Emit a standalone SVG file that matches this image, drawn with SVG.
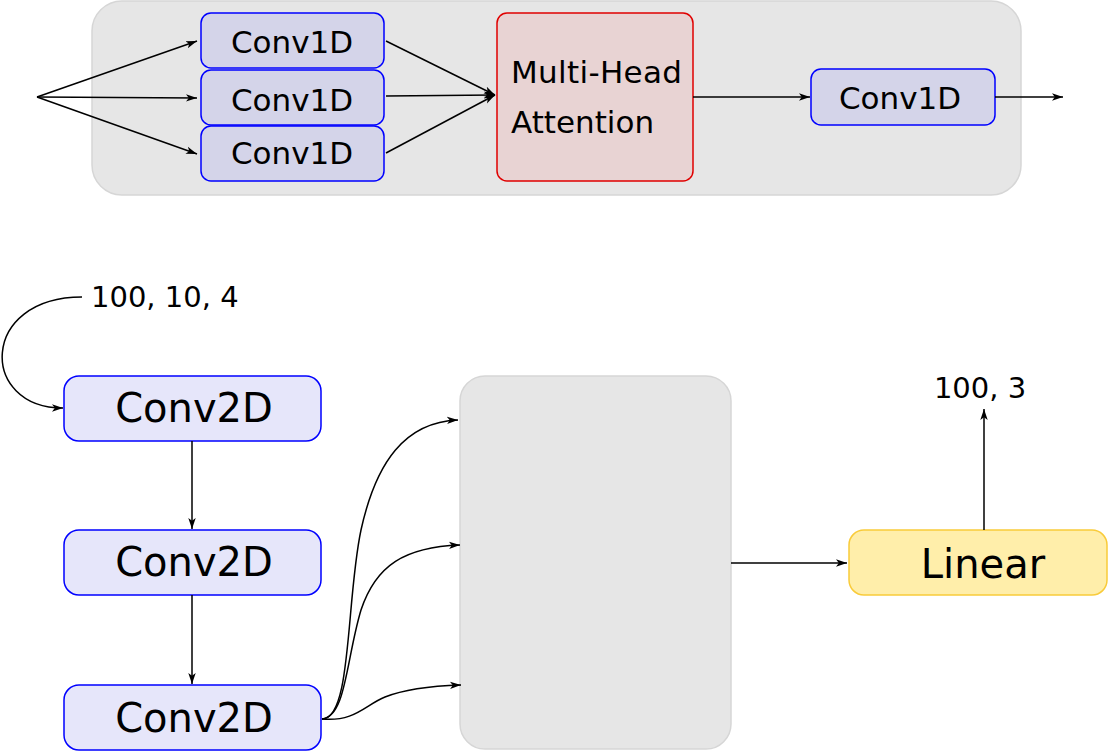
<svg xmlns="http://www.w3.org/2000/svg" width="1108" height="751" viewBox="0 0 1108 751">
<defs>
<marker id="ah" markerWidth="12" markerHeight="9" refX="11" refY="4.5" orient="auto" markerUnits="userSpaceOnUse">
<path d="M0,0.8 L11,4.5 L0,8.2 L2.8,4.5 z" fill="#000"/>
</marker>
<style>
.c1{fill:#d4d4e9;stroke:#0000ff;stroke-width:1.5}
.c2{fill:#e6e6fa;stroke:#0000ff;stroke-width:1.5}
.grp{fill:#e6e6e6;stroke:#d6d6d6;stroke-width:1.5}
.mha{fill:#e8d3d3;stroke:#e00000;stroke-width:1.5}
.lin{fill:#ffeeaa;stroke:#f9cb3a;stroke-width:1.5}
text{font-family:"DejaVu Sans",sans-serif;fill:#000}
.t1{font-size:31px}
.t2{font-size:40px}
.lb{font-size:29px}
.e{fill:none;stroke:#000;stroke-width:1.5;marker-end:url(#ah)}
</style>
</defs>
<g id="top-group"><rect class="grp" x="92" y="1" width="929" height="194" rx="30"/></g>
<g id="conv1d-a"><rect class="c1" x="201" y="13" width="183" height="55" rx="10"/><text class="t1" x="292" y="53" text-anchor="middle">Conv1D</text></g>
<g id="conv1d-b"><rect class="c1" x="201" y="70" width="183" height="55" rx="10"/><text class="t1" x="292" y="111" text-anchor="middle">Conv1D</text></g>
<g id="conv1d-c"><rect class="c1" x="201" y="126" width="183" height="55" rx="10"/><text class="t1" x="292" y="164" text-anchor="middle">Conv1D</text></g>
<g id="mha"><rect class="mha" x="497" y="13" width="196" height="168" rx="10"/><text class="t1" x="511" y="83" textLength="171">Multi-Head</text><text class="t1" x="511" y="133">Attention</text></g>
<g id="conv1d-out"><rect class="c1" x="811" y="69" width="184" height="56" rx="10"/><text class="t1" x="900" y="109" text-anchor="middle">Conv1D</text></g>
<g id="label-in"><text class="lb" x="91" y="307">100, 10, 4</text></g>
<g id="conv2d-1"><rect class="c2" x="64" y="376" width="257" height="65" rx="15"/><text class="t2" x="194" y="422" text-anchor="middle">Conv2D</text></g>
<g id="conv2d-2"><rect class="c2" x="64" y="530" width="257" height="65" rx="15"/><text class="t2" x="194" y="576" text-anchor="middle">Conv2D</text></g>
<g id="conv2d-3"><rect class="c2" x="64" y="685" width="257" height="65" rx="15"/><text class="t2" x="194" y="732" text-anchor="middle">Conv2D</text></g>
<g id="block"><rect class="grp" x="460" y="376" width="271" height="373" rx="25"/></g>
<g id="linear"><rect class="lin" x="849" y="530" width="258" height="65" rx="15"/><text class="t2" x="983" y="578" text-anchor="middle">Linear</text></g>
<g id="label-out"><text class="lb" x="980" y="398" text-anchor="middle">100, 3</text></g>
<g id="connectors">
<path class="e" d="M37,97 L197,41"/>
<path class="e" d="M37,97 L197,98"/>
<path class="e" d="M37,97 L197,154"/>
<path class="e" d="M386,41 L495,95"/>
<path class="e" d="M386,96 L495,95"/>
<path class="e" d="M386,153 L495,95"/>
<path class="e" d="M693,97 L810,97"/>
<path class="e" d="M995,97 L1063,97"/>
<path class="e" d="M82,297 C-21,297 -21,408 63,408"/>
<path class="e" d="M192,441 L192,529"/>
<path class="e" d="M192,595 L192,684"/>
<path class="e" d="M322,719 C352,719 346,600 361,530 C376,462 405,422 458,420"/>
<path class="e" d="M322,719 C346,717 346,660 361,610 C376,565 405,547 460,545"/>
<path class="e" d="M322,719 C355,722 365,705 385,697 C405,689 430,686 461,685"/>
<path class="e" d="M731,563 L847,563"/>
<path class="e" d="M984,530 L984,409"/>
</g>
</svg>
